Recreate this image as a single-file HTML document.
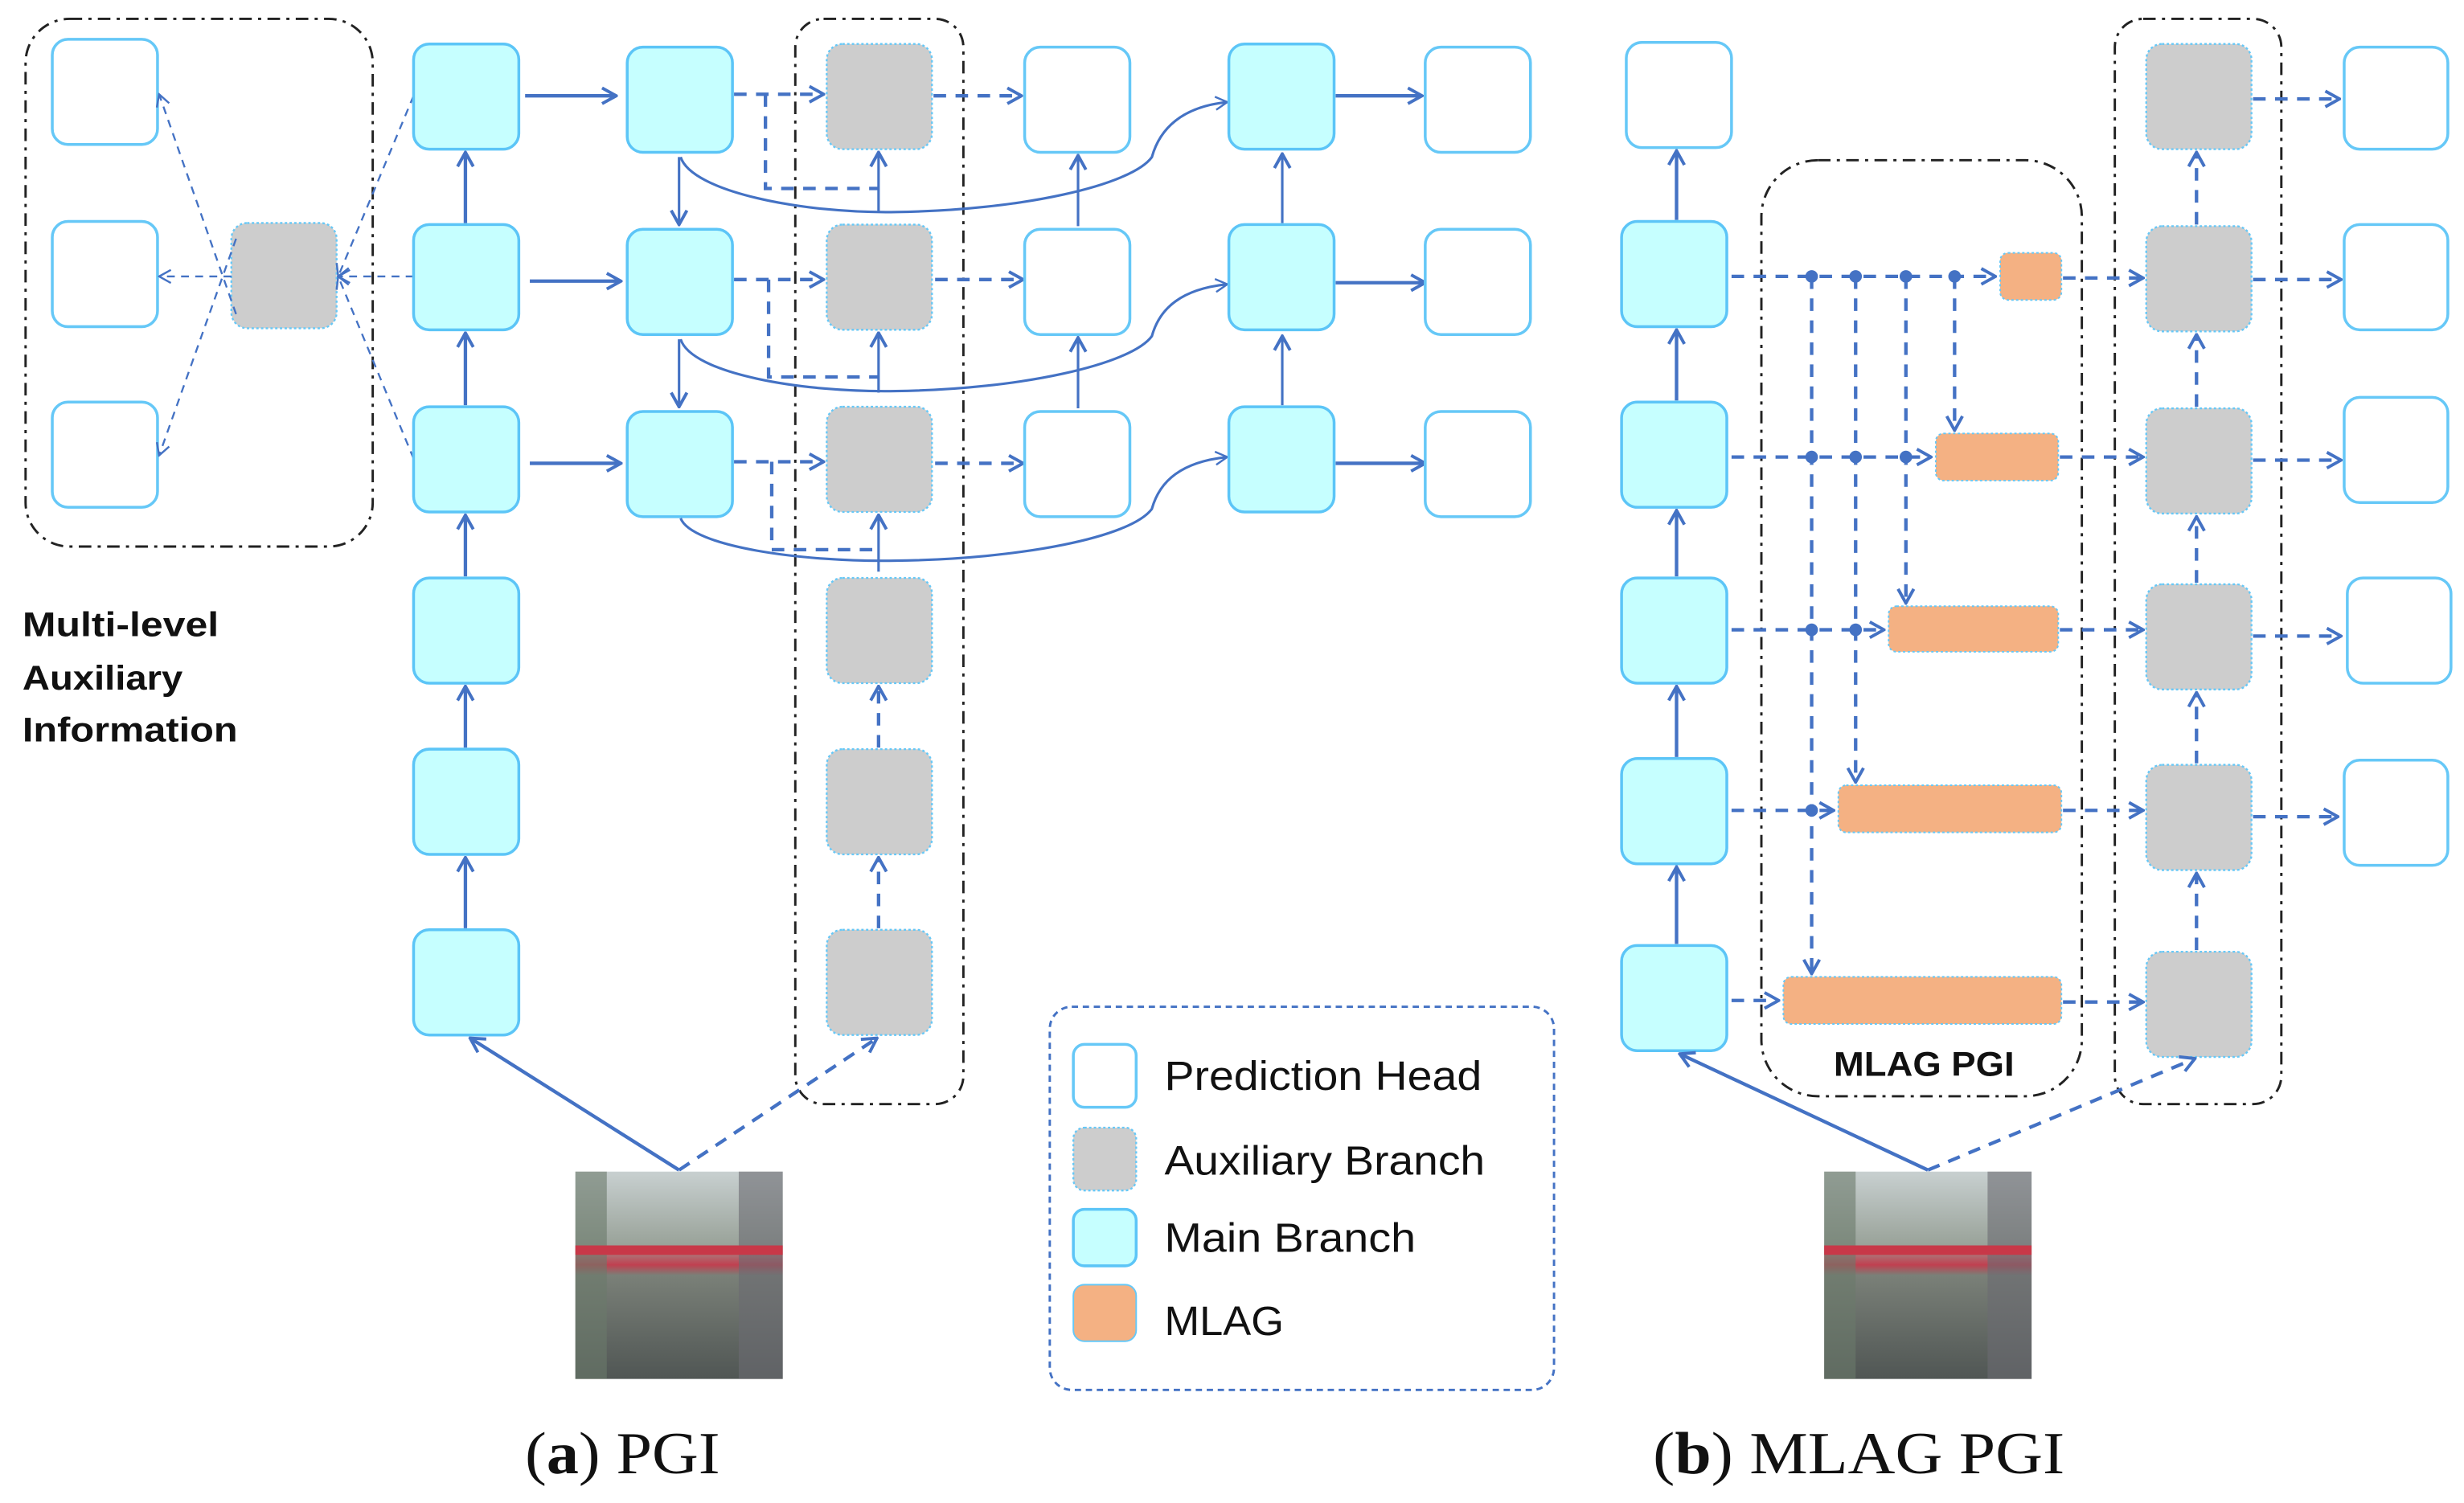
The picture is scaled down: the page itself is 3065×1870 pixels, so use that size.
<!DOCTYPE html>
<html><head><meta charset="utf-8"><style>
html,body{margin:0;padding:0;background:#fff;}
svg{display:block;}
</style></head><body>
<svg width="3065" height="1870" viewBox="0 0 1568 957" xmlns="http://www.w3.org/2000/svg" font-family="Liberation Sans, sans-serif">
<defs>
<marker id="a" viewBox="0 0 12 12" refX="11" refY="6" markerWidth="12" markerHeight="12" markerUnits="userSpaceOnUse" orient="auto">
<polyline points="2,1 11,6 2,11" fill="none" stroke="#4472c4" stroke-width="2"/></marker>
<marker id="b" viewBox="0 0 12 12" refX="11" refY="6" markerWidth="10" markerHeight="10" markerUnits="userSpaceOnUse" orient="auto">
<polyline points="2,1 11,6 2,11" fill="none" stroke="#4472c4" stroke-width="1.5"/></marker>
<linearGradient id="ph" x1="0" y1="0" x2="0" y2="1"><stop offset="0" stop-color="#c8d0d0"/><stop offset="0.35" stop-color="#9aa39a"/><stop offset="0.45" stop-color="#c04050"/><stop offset="0.5" stop-color="#7a8078"/><stop offset="1" stop-color="#505654"/></linearGradient>
</defs>
<style>
.m{fill:#c6ffff;stroke:#5cc5f7;stroke-width:1.8}
.p{fill:#fff;stroke:#66c8f7;stroke-width:1.8}
.g{fill:#cdcdcd;stroke:#66c8f7;stroke-width:1.2;stroke-dasharray:1.5 1.5}
.o{fill:#f4b183;stroke:#66c8f7;stroke-width:1;stroke-dasharray:1.5 1.5}
.s{stroke:#4472c4;stroke-width:2.2;fill:none}
.d{stroke:#4472c4;stroke-width:2.2;fill:none;stroke-dasharray:8 6}
.t{stroke:#4472c4;stroke-width:1.2;fill:none;stroke-dasharray:5 4}
.c{stroke:#4472c4;stroke-width:1.6;fill:none}
.bx{fill:none;stroke:#222;stroke-width:1.5;stroke-dasharray:8 4 2 4}
</style>

<rect class="bx" x="16" y="12" width="221" height="336" rx="28"/>
<rect class="p" x="33" y="25" width="67" height="67" rx="10"/>
<rect class="p" x="33" y="141" width="67" height="67" rx="10"/>
<rect class="p" x="33" y="256" width="67" height="67" rx="10"/>
<rect class="g" x="147" y="142" width="67" height="67" rx="10"/>
<line class="t" x1="147" y1="176" x2="101" y2="176" marker-end="url(#b)"/>
<line class="t" x1="150" y1="200" x2="101" y2="60" marker-end="url(#b)"/>
<line class="t" x1="150" y1="152" x2="101" y2="290" marker-end="url(#b)"/>
<line class="t" x1="263" y1="176" x2="215" y2="176" marker-end="url(#b)"/>
<line class="t" x1="263" y1="61" x2="215" y2="176" marker-end="url(#b)"/>
<line class="t" x1="263" y1="292" x2="215" y2="176" marker-end="url(#b)"/>
<text x="14" y="405" font-size="22" font-weight="bold" fill="#111" textLength="125" lengthAdjust="spacingAndGlyphs">Multi-level</text>
<text x="14" y="439" font-size="22" font-weight="bold" fill="#111" textLength="102" lengthAdjust="spacingAndGlyphs">Auxiliary</text>
<text x="14" y="472" font-size="22" font-weight="bold" fill="#111" textLength="137" lengthAdjust="spacingAndGlyphs">Information</text>

<rect class="m" x="263" y="28" width="67" height="67" rx="10"/>
<rect class="m" x="263" y="143" width="67" height="67" rx="10"/>
<rect class="m" x="263" y="259" width="67" height="67" rx="10"/>
<rect class="m" x="263" y="368" width="67" height="67" rx="10"/>
<rect class="m" x="263" y="477" width="67" height="67" rx="10"/>
<rect class="m" x="263" y="592" width="67" height="67" rx="10"/>
<line class="s" x1="296" y1="142" x2="296" y2="97" marker-end="url(#a)"/>
<line class="s" x1="296" y1="258" x2="296" y2="212" marker-end="url(#a)"/>
<line class="s" x1="296" y1="367" x2="296" y2="328" marker-end="url(#a)"/>
<line class="s" x1="296" y1="476" x2="296" y2="437" marker-end="url(#a)"/>
<line class="s" x1="296" y1="591" x2="296" y2="546" marker-end="url(#a)"/>
<line class="s" x1="334" y1="61" x2="392" y2="61" marker-end="url(#a)"/>
<line class="s" x1="337" y1="179" x2="395" y2="179" marker-end="url(#a)"/>
<line class="s" x1="337" y1="295" x2="395" y2="295" marker-end="url(#a)"/>

<rect class="m" x="399" y="30" width="67" height="67" rx="10"/>
<rect class="m" x="399" y="146" width="67" height="67" rx="10"/>
<rect class="m" x="399" y="262" width="67" height="67" rx="10"/>
<line class="c" x1="432" y1="100" x2="432" y2="143" marker-end="url(#a)"/>
<line class="c" x1="432" y1="216" x2="432" y2="259" marker-end="url(#a)"/>

<rect class="bx" x="506" y="12" width="107" height="691" rx="18"/>
<rect class="g" x="526" y="28" width="67" height="67" rx="10"/>
<rect class="g" x="526" y="143" width="67" height="67" rx="10"/>
<rect class="g" x="526" y="259" width="67" height="67" rx="10"/>
<rect class="g" x="526" y="368" width="67" height="67" rx="10"/>
<rect class="g" x="526" y="477" width="67" height="67" rx="10"/>
<rect class="g" x="526" y="592" width="67" height="67" rx="10"/>
<line class="d" x1="559" y1="476" x2="559" y2="437" marker-end="url(#a)"/>
<line class="d" x1="559" y1="591" x2="559" y2="546" marker-end="url(#a)"/>

<line class="d" x1="467" y1="60" x2="524" y2="60" marker-end="url(#a)"/>
<polyline class="d" points="487,60 487,120 559,120"/>
<line class="c" x1="559" y1="135" x2="559" y2="97" marker-end="url(#a)"/>
<line class="d" x1="467" y1="178" x2="524" y2="178" marker-end="url(#a)"/>
<polyline class="d" points="489,178 489,240 559,240"/>
<line class="c" x1="559" y1="250" x2="559" y2="212" marker-end="url(#a)"/>
<line class="d" x1="467" y1="294" x2="524" y2="294" marker-end="url(#a)"/>
<polyline class="d" points="491,294 491,350 559,350"/>
<line class="c" x1="559" y1="364" x2="559" y2="328" marker-end="url(#a)"/>

<line class="d" x1="594" y1="61" x2="650" y2="61" marker-end="url(#a)"/>
<line class="d" x1="595" y1="178" x2="651" y2="178" marker-end="url(#a)"/>
<line class="d" x1="595" y1="295" x2="651" y2="295" marker-end="url(#a)"/>

<path class="c" d="M433,100 C440,122 510,136 570,135 C650,134 720,118 733,100 C738,82 752,68 781,65" marker-end="url(#b)"/>
<path class="c" d="M433,216 C440,238 510,250 570,249 C650,248 720,232 733,214 C738,196 752,184 781,181" marker-end="url(#b)"/>
<path class="c" d="M433,330 C440,348 510,358 570,357 C650,356 720,342 733,324 C738,306 752,294 781,291" marker-end="url(#b)"/>

<rect class="p" x="652" y="30" width="67" height="67" rx="10"/>
<rect class="p" x="652" y="146" width="67" height="67" rx="10"/>
<rect class="p" x="652" y="262" width="67" height="67" rx="10"/>
<line class="c" x1="686" y1="144" x2="686" y2="99" marker-end="url(#a)"/>
<line class="c" x1="686" y1="260" x2="686" y2="215" marker-end="url(#a)"/>

<rect class="m" x="782" y="28" width="67" height="67" rx="10"/>
<rect class="m" x="782" y="143" width="67" height="67" rx="10"/>
<rect class="m" x="782" y="259" width="67" height="67" rx="10"/>
<line class="c" x1="816" y1="142" x2="816" y2="98" marker-end="url(#a)"/>
<line class="c" x1="816" y1="258" x2="816" y2="214" marker-end="url(#a)"/>
<line class="s" x1="850" y1="61" x2="905" y2="61" marker-end="url(#a)"/>
<line class="s" x1="850" y1="180" x2="907" y2="180" marker-end="url(#a)"/>
<line class="s" x1="850" y1="295" x2="907" y2="295" marker-end="url(#a)"/>
<rect class="p" x="907" y="30" width="67" height="67" rx="10"/>
<rect class="p" x="907" y="146" width="67" height="67" rx="10"/>
<rect class="p" x="907" y="262" width="67" height="67" rx="10"/>

<line class="s" x1="432" y1="745" x2="299" y2="661" marker-end="url(#a)"/>
<line class="d" x1="432" y1="745" x2="558" y2="661" marker-end="url(#a)"/>
<rect x="366" y="746" width="132" height="132" fill="url(#ph)"/>
<rect x="366" y="746" width="20" height="132" fill="#6a7a6a" opacity="0.6"/>
<rect x="470" y="746" width="28" height="132" fill="#6a6a72" opacity="0.6"/>
<rect x="366" y="793" width="132" height="6" fill="#c83848"/>

<rect x="668" y="641" width="321" height="244" rx="14" fill="none" stroke="#4472c4" stroke-width="1.5" stroke-dasharray="4 3"/>
<rect class="p" x="683" y="665" width="40" height="40" rx="7"/>
<rect class="g" x="683" y="718" width="40" height="40" rx="7"/>
<rect class="m" x="683" y="770" width="40" height="36" rx="7"/>
<rect x="683" y="818" width="40" height="36" rx="7" fill="#f4b183" stroke="#66c8f7" stroke-width="1"/>
<text x="741" y="694" font-size="26" fill="#111" textLength="202" lengthAdjust="spacingAndGlyphs">Prediction Head</text>
<text x="741" y="748" font-size="26" fill="#111" textLength="204" lengthAdjust="spacingAndGlyphs">Auxiliary Branch</text>
<text x="741" y="797" font-size="26" fill="#111" textLength="160" lengthAdjust="spacingAndGlyphs">Main Branch</text>
<text x="741" y="850" font-size="26" fill="#111" textLength="76" lengthAdjust="spacingAndGlyphs">MLAG</text>

<text x="334" y="938" font-size="38" font-family="Liberation Serif, serif" fill="#111" textLength="124" lengthAdjust="spacingAndGlyphs">(<tspan font-weight="bold">a</tspan>) PGI</text>
<text x="1052" y="938" font-size="38" font-family="Liberation Serif, serif" fill="#111" textLength="262" lengthAdjust="spacingAndGlyphs">(<tspan font-weight="bold">b</tspan>) MLAG PGI</text>

<rect class="p" x="1035" y="27" width="67" height="67" rx="10"/>
<rect class="m" x="1032" y="141" width="67" height="67" rx="10"/>
<rect class="m" x="1032" y="256" width="67" height="67" rx="10"/>
<rect class="m" x="1032" y="368" width="67" height="67" rx="10"/>
<rect class="m" x="1032" y="483" width="67" height="67" rx="10"/>
<rect class="m" x="1032" y="602" width="67" height="67" rx="10"/>
<line class="s" x1="1067" y1="140" x2="1067" y2="96" marker-end="url(#a)"/>
<line class="s" x1="1067" y1="255" x2="1067" y2="210" marker-end="url(#a)"/>
<line class="s" x1="1067" y1="367" x2="1067" y2="325" marker-end="url(#a)"/>
<line class="s" x1="1067" y1="482" x2="1067" y2="437" marker-end="url(#a)"/>
<line class="s" x1="1067" y1="601" x2="1067" y2="552" marker-end="url(#a)"/>

<rect class="bx" x="1121" y="102" width="204" height="596" rx="36"/>
<text x="1167" y="685" font-size="22" font-weight="bold" fill="#111" textLength="115" lengthAdjust="spacingAndGlyphs">MLAG PGI</text>

<rect class="o" x="1273" y="161" width="39" height="30" rx="5"/>
<rect class="o" x="1232" y="276" width="78" height="30" rx="5"/>
<rect class="o" x="1202" y="386" width="108" height="29" rx="5"/>
<rect class="o" x="1170" y="500" width="142" height="30" rx="5"/>
<rect class="o" x="1135" y="622" width="177" height="30" rx="5"/>

<line class="d" x1="1102" y1="176" x2="1270" y2="176" marker-end="url(#a)"/>
<line class="d" x1="1102" y1="291" x2="1229" y2="291" marker-end="url(#a)"/>
<line class="d" x1="1102" y1="401" x2="1199" y2="401" marker-end="url(#a)"/>
<line class="d" x1="1102" y1="516" x2="1167" y2="516" marker-end="url(#a)"/>
<line class="d" x1="1102" y1="637" x2="1132" y2="637" marker-end="url(#a)"/>
<line class="d" x1="1244" y1="176" x2="1244" y2="274" marker-end="url(#a)"/>
<line class="d" x1="1213" y1="176" x2="1213" y2="384" marker-end="url(#a)"/>
<line class="d" x1="1181" y1="176" x2="1181" y2="498" marker-end="url(#a)"/>
<line class="d" x1="1153" y1="176" x2="1153" y2="620" marker-end="url(#a)"/>
<g fill="#4472c4">
<circle cx="1153" cy="176" r="4"/><circle cx="1181" cy="176" r="4"/><circle cx="1213" cy="176" r="4"/><circle cx="1244" cy="176" r="4"/>
<circle cx="1153" cy="291" r="4"/><circle cx="1181" cy="291" r="4"/><circle cx="1213" cy="291" r="4"/>
<circle cx="1153" cy="401" r="4"/><circle cx="1181" cy="401" r="4"/>
<circle cx="1153" cy="516" r="4"/>
</g>

<rect class="bx" x="1346" y="12" width="106" height="691" rx="18"/>
<rect class="g" x="1366" y="28" width="67" height="67" rx="10"/>
<rect class="g" x="1366" y="144" width="67" height="67" rx="10"/>
<rect class="g" x="1366" y="260" width="67" height="67" rx="10"/>
<rect class="g" x="1366" y="372" width="67" height="67" rx="10"/>
<rect class="g" x="1366" y="487" width="67" height="67" rx="10"/>
<rect class="g" x="1366" y="606" width="67" height="67" rx="10"/>
<line class="d" x1="1398" y1="143" x2="1398" y2="97" marker-end="url(#a)"/>
<line class="d" x1="1398" y1="259" x2="1398" y2="213" marker-end="url(#a)"/>
<line class="d" x1="1398" y1="371" x2="1398" y2="329" marker-end="url(#a)"/>
<line class="d" x1="1398" y1="486" x2="1398" y2="441" marker-end="url(#a)"/>
<line class="d" x1="1398" y1="605" x2="1398" y2="556" marker-end="url(#a)"/>

<line class="d" x1="1313" y1="177" x2="1364" y2="177" marker-end="url(#a)"/>
<line class="d" x1="1311" y1="291" x2="1364" y2="291" marker-end="url(#a)"/>
<line class="d" x1="1311" y1="401" x2="1364" y2="401" marker-end="url(#a)"/>
<line class="d" x1="1313" y1="516" x2="1364" y2="516" marker-end="url(#a)"/>
<line class="d" x1="1313" y1="638" x2="1364" y2="638" marker-end="url(#a)"/>

<line class="d" x1="1434" y1="63" x2="1489" y2="63" marker-end="url(#a)"/>
<line class="d" x1="1434" y1="178" x2="1490" y2="178" marker-end="url(#a)"/>
<line class="d" x1="1434" y1="293" x2="1490" y2="293" marker-end="url(#a)"/>
<line class="d" x1="1434" y1="405" x2="1490" y2="405" marker-end="url(#a)"/>
<line class="d" x1="1434" y1="520" x2="1488" y2="520" marker-end="url(#a)"/>
<rect class="p" x="1492" y="30" width="66" height="65" rx="10"/>
<rect class="p" x="1492" y="143" width="66" height="67" rx="10"/>
<rect class="p" x="1492" y="253" width="66" height="67" rx="10"/>
<rect class="p" x="1494" y="368" width="66" height="67" rx="10"/>
<rect class="p" x="1492" y="484" width="66" height="67" rx="10"/>

<line class="s" x1="1227" y1="745" x2="1069" y2="671" marker-end="url(#a)"/>
<line class="d" x1="1227" y1="745" x2="1397" y2="674" marker-end="url(#a)"/>
<rect x="1161" y="746" width="132" height="132" fill="url(#ph)"/>
<rect x="1161" y="746" width="20" height="132" fill="#6a7a6a" opacity="0.6"/>
<rect x="1265" y="746" width="28" height="132" fill="#6a6a72" opacity="0.6"/>
<rect x="1161" y="793" width="132" height="6" fill="#c83848"/>
</svg>
</body></html>
